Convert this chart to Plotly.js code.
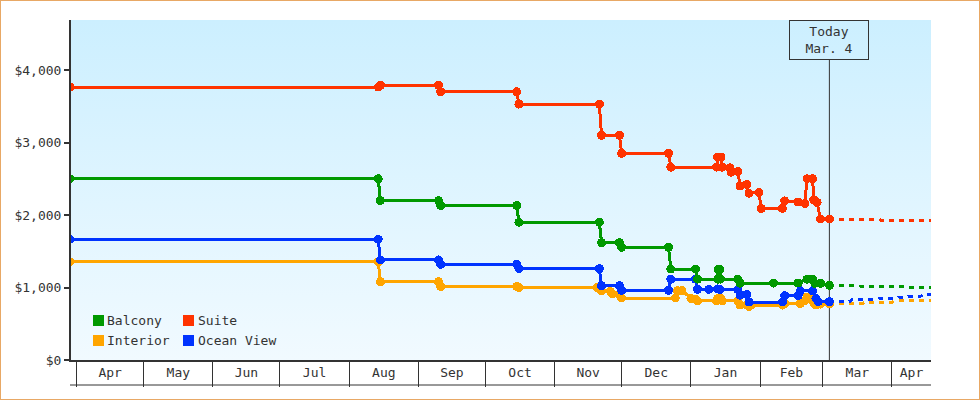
<!DOCTYPE html>
<html><head><meta charset="utf-8">
<script src="https://cdn.plot.ly/plotly-3.0.1.min.js"></script>
<style>
html,body{margin:0;padding:0;background:#fff;}
#wrap{position:relative;width:980px;height:400px;}
#chart{width:980px;height:400px;}
#frame{position:absolute;left:0;top:0;width:980px;height:400px;box-sizing:border-box;border:1px solid #e8a865;pointer-events:none;}
.scatterlayer path{shape-rendering:crispEdges;}
</style></head><body>
<div id="wrap"><div id="chart"></div><div id="frame"></div></div>
<script>
// ---------- data ----------
const seriesNames = ['Balcony', 'Suite', 'Interior', 'Ocean View'];
const seriesColors = ['#009900', '#ff3300', '#ffa500', '#0033ff'];

const suiteDates = ['2024-03-29','2024-08-14','2024-08-15','2024-09-10','2024-09-11','2024-10-15','2024-10-16','2024-11-21','2024-11-22','2024-11-30','2024-12-01','2024-12-22','2024-12-23','2025-01-12 12:00','2025-01-13','2025-01-14 12:00','2025-01-15','2025-01-18 12:00','2025-01-19','2025-01-22','2025-01-23','2025-01-26','2025-01-27','2025-01-31 12:00','2025-02-01 12:00','2025-02-11','2025-02-12','2025-02-18','2025-02-21','2025-02-22','2025-02-24 12:00','2025-02-25','2025-02-26 12:00','2025-02-28','2025-03-04'];
const suitePrices = [3765,3765,3790,3790,3700,3700,3530,3530,3100,3100,2850,2850,2660,2660,2800,2800,2660,2650,2590,2600,2400,2420,2300,2310,2090,2090,2195,2180,2160,2500,2500,2210,2175,1945,1945];

const balconyDates = ['2024-03-29','2024-08-14','2024-08-15','2024-09-10','2024-09-11','2024-10-15','2024-10-16','2024-11-21','2024-11-22','2024-11-30','2024-12-01','2024-12-22','2024-12-23','2025-01-03','2025-01-04','2025-01-13','2025-01-13 06:00','2025-01-14','2025-01-14 06:00','2025-01-22','2025-01-23','2025-02-07','2025-02-18','2025-02-22','2025-02-24 12:00','2025-02-25 12:00','2025-02-28','2025-03-04'];
const balconyPrices = [2500,2500,2200,2200,2130,2130,1900,1900,1620,1620,1555,1555,1255,1255,1115,1115,1250,1250,1115,1115,1060,1060,1062,1115,1115,1058,1058,1030];

const oceanDates = ['2024-03-29','2024-08-14','2024-08-15','2024-09-10','2024-09-11','2024-10-15','2024-10-16','2024-11-21','2024-11-22','2024-11-30','2024-12-01','2024-12-22','2024-12-23','2025-01-03','2025-01-04','2025-01-09','2025-01-13','2025-01-14','2025-01-22','2025-01-23','2025-01-26','2025-01-27','2025-02-11','2025-02-12','2025-02-18','2025-02-19','2025-02-24 12:00','2025-02-26','2025-02-27','2025-03-04'];
const oceanPrices = [1665,1665,1380,1380,1320,1320,1260,1260,1025,1025,960,960,1115,1115,975,975,980,975,970,895,905,800,800,887,887,955,955,850,805,805];

const interiorDates = ['2024-03-29','2024-08-14','2024-08-15','2024-09-10','2024-09-11','2024-10-15','2024-10-16','2024-11-20','2024-11-21','2024-11-22','2024-11-26','2024-11-27','2024-11-30','2024-12-01','2024-12-25','2024-12-26','2024-12-28','2025-01-01','2025-01-03','2025-01-04','2025-01-12 12:00','2025-01-13','2025-01-14 12:00','2025-01-15','2025-01-22','2025-01-23','2025-01-26','2025-01-27','2025-01-28','2025-02-11','2025-02-12','2025-02-19','2025-02-21','2025-02-22','2025-02-24','2025-02-25','2025-02-26','2025-02-28','2025-03-04'];
const interiorPrices = [1355,1355,1080,1080,1015,1015,1000,1000,985,955,945,910,905,855,855,955,960,850,840,815,815,850,850,815,815,760,760,740,758,758,780,780,820,870,850,790,760,772,772];

// forecasts (dotted, after today)
const suiteFcDates = ['2025-03-04','2025-03-26','2025-03-27','2025-04-20'];
const suiteFcPrices = [1945,1945,1930,1930];
const balconyFcDates = ['2025-03-04','2025-03-17','2025-03-18','2025-04-08','2025-04-09','2025-04-20'];
const balconyFcPrices = [1030,1030,1017,1017,1003,1003];
const oceanFcDates = ['2025-03-04','2025-03-13','2025-03-14','2025-03-25','2025-03-26','2025-04-03','2025-04-04','2025-04-08','2025-04-09','2025-04-14','2025-04-15','2025-04-20'];
const oceanFcPrices = [805,805,835,835,850,850,868,868,882,882,897,897];
const interiorFcDates = ['2025-03-04','2025-03-12','2025-03-13','2025-03-19','2025-03-20','2025-04-01','2025-04-02','2025-04-20'];
const interiorFcPrices = [772,772,782,782,796,796,818,818];

const monthLabels = ['Apr','May','Jun','Jul','Aug','Sep','Oct','Nov','Dec','Jan','Feb','Mar','Apr'];
const yTickValues = [0, 1000, 2000, 3000, 4000];
const yTickLabels = ['$0', '$1,000', '$2,000', '$3,000', '$4,000'];
const todayDate = '2025-03-04';
const todayLabel = 'Today<br>Mar. 4';

// ---------- layout helpers ----------
const W = 980, H = 400, ML = 71, MR = 49, MT = 20, MB = 40;
const PW = W - ML - MR, PH = H - MT - MB;
const px2x = p => (p - ML) / PW;
const px2y = p => (H - MB - p) / PH;
const FONT = "'DejaVu Sans Mono', monospace";
const INK = '#333333';
const xRange = ['2024-03-29 10:48', '2025-04-18 12:00'];
const yRange = [0, 4690];

// month label positions: centre of the visible part of each month
const rangeEndMs = Date.parse('2025-04-18T12:00:00Z');
const labelPos = monthLabels.map((_, i) => {
  const s = Date.UTC(2024, 3 + i, 1);
  const e = Math.min(Date.UTC(2024, 4 + i, 1), rangeEndMs);
  return (s + e) / 2;
});

// ---------- traces ----------
const actual = [
  {name: 'Interior', x: interiorDates, y: interiorPrices, c: seriesColors[2]},
  {name: 'Ocean View', x: oceanDates, y: oceanPrices, c: seriesColors[3]},
  {name: 'Balcony', x: balconyDates, y: balconyPrices, c: seriesColors[0]},
  {name: 'Suite', x: suiteDates, y: suitePrices, c: seriesColors[1]},
];
const forecast = [
  {x: interiorFcDates, y: interiorFcPrices, c: seriesColors[2]},
  {x: oceanFcDates, y: oceanFcPrices, c: seriesColors[3]},
  {x: balconyFcDates, y: balconyFcPrices, c: seriesColors[0]},
  {x: suiteFcDates, y: suiteFcPrices, c: seriesColors[1]},
];
const traces = [];
forecast.forEach(f => traces.push({
  type: 'scatter', mode: 'lines', x: f.x, y: f.y, showlegend: false, hoverinfo: 'skip',
  line: {color: f.c, width: 3, dash: '5px,5px'}
}));
actual.forEach(s => traces.push({
  type: 'scatter', mode: 'lines+markers', name: s.name, x: s.x, y: s.y, showlegend: false,
  line: {color: s.c, width: 3}, marker: {color: s.c, size: 9, symbol: 'circle'}
}));
// helper trace so the label axis exists
traces.push({type: 'scatter', x: [], y: [], xaxis: 'x2', yaxis: 'y', showlegend: false, hoverinfo: 'skip'});

// ---------- background gradient ----------
const bgSvg = "<svg xmlns='http://www.w3.org/2000/svg' viewBox='0 0 10 100' preserveAspectRatio='none' width='10' height='100'><defs><linearGradient id='g' x1='0' y1='0' x2='0' y2='1'><stop offset='0' stop-color='#ccefff'/><stop offset='1' stop-color='#f1faff'/></linearGradient></defs><rect width='10' height='100' fill='url(#g)'/></svg>";

// ---------- legend (manual, two columns) ----------
const legendItems = [
  {name: seriesNames[0], c: seriesColors[0], sx: 93, tx: 106, cy: 320.5},
  {name: seriesNames[1], c: seriesColors[1], sx: 183, tx: 197, cy: 320.5},
  {name: seriesNames[2], c: seriesColors[2], sx: 93, tx: 106, cy: 340.5},
  {name: seriesNames[3], c: seriesColors[3], sx: 183, tx: 197, cy: 340.5},
];

const shapes = [
  // today marker line
  {type: 'line', xref: 'x', yref: 'paper', x0: todayDate, x1: todayDate, y0: 0, y1: px2y(60), line: {color: INK, width: 1}, layer: 'below'},
  // bottom line of the month boxes
  {type: 'line', xref: 'paper', yref: 'paper', x0: px2x(70), x1: 1, y0: px2y(385), y1: px2y(385), line: {color: INK, width: 1}},
];
legendItems.forEach(it => shapes.push({
  type: 'rect', xref: 'paper', yref: 'paper', x0: px2x(it.sx), x1: px2x(it.sx + 11),
  y0: px2y(it.cy + 5.5), y1: px2y(it.cy - 5.5), fillcolor: it.c, line: {width: 0}
}));

const annotations = [
  {xref: 'x', yref: 'paper', x: todayDate, y: 1, xanchor: 'center', yanchor: 'top', showarrow: false,
   text: todayLabel, width: 78, height: 38, borderpad: 0, borderwidth: 1, bordercolor: INK,
   bgcolor: 'rgba(0,0,0,0)', font: {family: FONT, size: 13, color: INK}}
];
legendItems.forEach(it => annotations.push({
  xref: 'paper', yref: 'paper', x: px2x(it.tx), y: px2y(it.cy), xanchor: 'left', yanchor: 'middle',
  showarrow: false, text: it.name, borderpad: 0, font: {family: FONT, size: 13, color: INK}
}));

const layout = {
  width: W, height: H,
  margin: {l: ML, r: MR, t: MT, b: MB, pad: 0},
  paper_bgcolor: '#ffffff', plot_bgcolor: 'rgba(0,0,0,0)',
  showlegend: false,
  font: {family: FONT, size: 13, color: INK},
  xaxis: {
    type: 'date', range: xRange, showgrid: false, zeroline: false,
    showline: true, linecolor: INK, linewidth: 2,
    ticks: 'outside', ticklen: 25, tickwidth: 1, tickcolor: INK,
    tickmode: 'linear', tick0: '2024-04-01', dtick: 'M1', showticklabels: false
  },
  xaxis2: {
    type: 'date', range: xRange, overlaying: 'x', anchor: 'y', side: 'bottom',
    showgrid: false, zeroline: false, showline: false, ticks: '',
    tickmode: 'array', tickvals: labelPos, ticktext: monthLabels,
    ticklabelstandoff: 3, tickfont: {family: FONT, size: 13, color: INK}
  },
  yaxis: {
    range: yRange, tickmode: 'array', tickvals: yTickValues, ticktext: yTickLabels,
    showgrid: false, zeroline: false, showline: true, linecolor: INK, linewidth: 2,
    ticks: 'outside', ticklen: 5, tickwidth: 2, tickcolor: INK,
    tickfont: {family: FONT, size: 13, color: INK}
  },
  images: [{
    source: 'data:image/svg+xml;charset=utf-8,' + encodeURIComponent(bgSvg),
    xref: 'paper', yref: 'paper', x: 0, y: 1, sizex: 1, sizey: 1,
    xanchor: 'left', yanchor: 'top', sizing: 'stretch', layer: 'below'
  }],
  shapes: shapes,
  annotations: annotations
};

Plotly.newPlot('chart', traces, layout, {displayModeBar: false, staticPlot: true});
</script>
</body></html>
